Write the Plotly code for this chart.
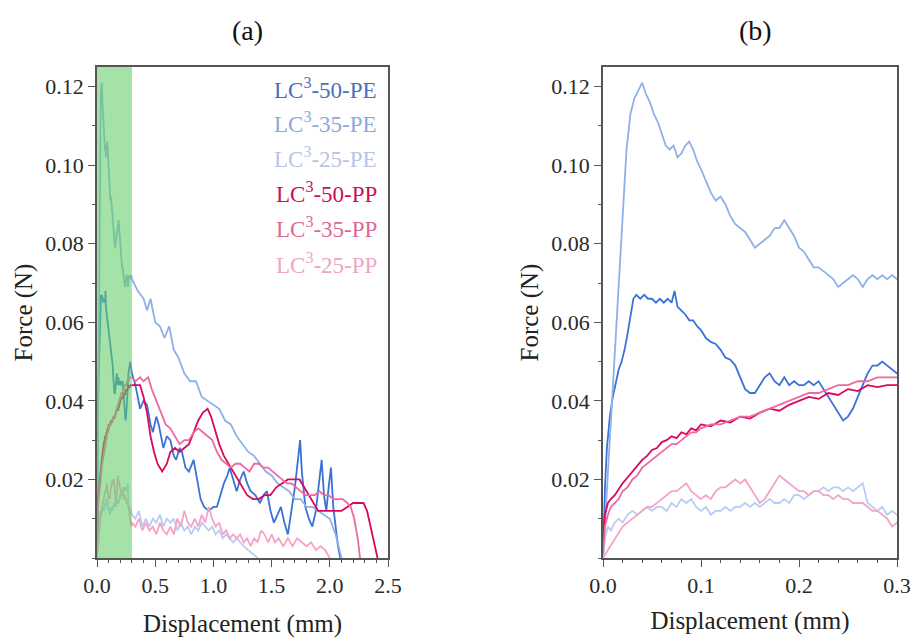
import plotly.graph_objects as go

# ---------------- data (displacement mm, force N) ----------------
pe50_x = [0, 0.002, 0.004, 0.007, 0.010, 0.013, 0.016, 0.019, 0.022, 0.025, 0.028, 0.031, 0.034, 0.038, 0.042, 0.046,
          0.050, 0.054, 0.058, 0.062, 0.066, 0.070, 0.073, 0.076, 0.080, 0.084, 0.088, 0.092, 0.096, 0.100, 0.105,
          0.110, 0.115, 0.120, 0.125, 0.130, 0.135, 0.140, 0.145, 0.150, 0.155, 0.160, 0.165, 0.170, 0.175, 0.180,
          0.185, 0.190, 0.195, 0.200, 0.205, 0.210, 0.215, 0.220, 0.225, 0.230, 0.235, 0.240, 0.245, 0.250, 0.255,
          0.260, 0.265, 0.270, 0.275, 0.280, 0.285, 0.290, 0.295, 0.300,
          0.33, 0.37, 0.40, 0.43, 0.46, 0.48, 0.51, 0.53, 0.57, 0.60, 0.63, 0.66, 0.68, 0.71, 0.73, 0.76, 0.79, 0.83,
          0.86, 0.89, 0.92, 0.96, 1.00, 1.03, 1.06, 1.09, 1.12, 1.14, 1.17, 1.20, 1.23, 1.26, 1.29, 1.32, 1.36, 1.40,
          1.43, 1.46, 1.49, 1.52, 1.55, 1.58, 1.61, 1.64, 1.67, 1.70, 1.73, 1.745, 1.76, 1.79, 1.82, 1.85, 1.88, 1.91,
          1.93, 1.95, 1.97, 1.99, 2.01, 2.03, 2.05, 2.07, 2.09]
pe50_y = [0, 0.018, 0.028, 0.036, 0.041, 0.045, 0.048, 0.050, 0.053, 0.057, 0.061, 0.066, 0.067, 0.066, 0.067, 0.066,
          0.066, 0.065, 0.066, 0.065, 0.066, 0.065, 0.068, 0.064, 0.063, 0.062, 0.0605, 0.0605, 0.059, 0.058, 0.056,
          0.055, 0.0545, 0.053, 0.051, 0.0505, 0.049, 0.046, 0.043, 0.042, 0.042, 0.044, 0.046, 0.047, 0.045, 0.044,
          0.046, 0.044, 0.045, 0.044, 0.044, 0.045, 0.044, 0.045, 0.043, 0.041, 0.039, 0.037, 0.035, 0.036, 0.038,
          0.041, 0.044, 0.047, 0.049, 0.049, 0.050, 0.049, 0.048, 0.047,
          0.044, 0.038, 0.040, 0.039, 0.034, 0.032, 0.036, 0.034, 0.028, 0.031, 0.030, 0.026, 0.025, 0.028, 0.027,
          0.023, 0.022, 0.025, 0.020, 0.015, 0.013, 0.012, 0.013, 0.013, 0.016, 0.019, 0.021, 0.023, 0.020, 0.017,
          0.020, 0.022, 0.019, 0.017, 0.016, 0.014, 0.016, 0.017, 0.012, 0.009, 0.011, 0.013, 0.009, 0.006, 0.012,
          0.018, 0.026, 0.030, 0.022, 0.013, 0.010, 0.008, 0.012, 0.019, 0.025, 0.016, 0.012, 0.018, 0.023, 0.013,
          0.008, 0.003, 0.0]

pe35_x = [0, 0.004, 0.008, 0.012, 0.016, 0.020, 0.024, 0.028, 0.032, 0.036, 0.040, 0.044, 0.048, 0.052, 0.056, 0.060,
          0.064, 0.068, 0.072, 0.076, 0.080, 0.084, 0.088, 0.092, 0.096, 0.100, 0.105, 0.110, 0.115, 0.120, 0.125,
          0.130, 0.135, 0.140, 0.145, 0.150, 0.155, 0.160, 0.165, 0.170, 0.175, 0.180, 0.185, 0.190, 0.195, 0.200,
          0.205, 0.210, 0.215, 0.220, 0.225, 0.230, 0.235, 0.240, 0.245, 0.250, 0.255, 0.260, 0.265, 0.270, 0.275,
          0.280, 0.285, 0.290, 0.295, 0.300,
          0.35, 0.40, 0.43, 0.46, 0.50, 0.54, 0.58, 0.62, 0.66, 0.70, 0.75, 0.80, 0.85, 0.90, 0.95, 1.00, 1.05, 1.10,
          1.15, 1.20, 1.25, 1.30, 1.35, 1.40, 1.45, 1.50, 1.55, 1.60, 1.65, 1.70, 1.75, 1.80, 1.85, 1.90, 1.95, 2.00,
          2.05, 2.10]
pe35_y = [0, 0.017, 0.034, 0.052, 0.069, 0.086, 0.104, 0.113, 0.117, 0.119, 0.121, 0.118, 0.116, 0.113, 0.111, 0.108,
          0.105, 0.104, 0.105, 0.102, 0.103, 0.105, 0.106, 0.104, 0.101, 0.099, 0.096, 0.093, 0.091, 0.092, 0.090,
          0.087, 0.085, 0.084, 0.083, 0.081, 0.079, 0.080, 0.081, 0.082, 0.084, 0.084, 0.086, 0.084, 0.082, 0.079,
          0.078, 0.076, 0.074, 0.074, 0.073, 0.072, 0.071, 0.069, 0.070, 0.071, 0.072, 0.071, 0.069, 0.071, 0.072,
          0.071, 0.072, 0.071, 0.072, 0.071,
          0.068, 0.066, 0.063, 0.066, 0.060, 0.059, 0.056, 0.059, 0.053, 0.051, 0.047, 0.045, 0.045, 0.041, 0.040,
          0.039, 0.038, 0.035, 0.034, 0.031, 0.029, 0.027, 0.026, 0.024, 0.022, 0.021, 0.019, 0.018, 0.017, 0.015,
          0.015, 0.013, 0.013, 0.012, 0.011, 0.010, 0.006, 0.0]

pe25_x = [0, 0.002, 0.005, 0.008, 0.012, 0.016, 0.020, 0.025, 0.030, 0.035, 0.040, 0.045, 0.050, 0.055, 0.060, 0.065,
          0.070, 0.075, 0.080, 0.085, 0.090, 0.095, 0.100, 0.105, 0.110, 0.115, 0.120, 0.125, 0.130, 0.135, 0.140,
          0.145, 0.150, 0.155, 0.160, 0.165, 0.170, 0.175, 0.180, 0.185, 0.190, 0.195, 0.200, 0.205, 0.210, 0.215,
          0.220, 0.225, 0.230, 0.235, 0.240, 0.245, 0.250, 0.255, 0.260, 0.265, 0.270, 0.275, 0.280, 0.285, 0.290,
          0.295, 0.300,
          0.33, 0.36, 0.39, 0.42, 0.45, 0.48, 0.51, 0.54, 0.57, 0.60, 0.63, 0.66, 0.69, 0.72, 0.75, 0.78, 0.81, 0.84,
          0.87, 0.90, 0.93, 0.96, 0.99, 1.02, 1.05, 1.08, 1.11, 1.14, 1.17, 1.20, 1.23, 1.26, 1.30, 1.34, 1.38]
pe25_y = [0, 0.005, 0.008, 0.007, 0.009, 0.010, 0.009, 0.011, 0.012, 0.011, 0.012, 0.013, 0.012, 0.013, 0.013, 0.012,
          0.014, 0.013, 0.015, 0.014, 0.015, 0.013, 0.012, 0.013, 0.011, 0.012, 0.012, 0.013, 0.012, 0.013, 0.013,
          0.014, 0.013, 0.014, 0.013, 0.014, 0.015, 0.014, 0.014, 0.015, 0.014, 0.016, 0.016, 0.015, 0.016, 0.017,
          0.017, 0.018, 0.017, 0.018, 0.018, 0.017, 0.018, 0.017, 0.018, 0.019, 0.014, 0.013, 0.012, 0.013, 0.011,
          0.012, 0.011,
          0.010, 0.012, 0.008, 0.010, 0.008, 0.010, 0.009, 0.011, 0.008, 0.010, 0.009, 0.010, 0.007, 0.009, 0.007,
          0.008, 0.006, 0.008, 0.007, 0.009, 0.008, 0.007, 0.008, 0.006, 0.007, 0.005, 0.006, 0.005, 0.004, 0.005,
          0.004, 0.003, 0.002, 0.001, 0.0]

pp50_x = [0, 0.002, 0.005, 0.008, 0.012, 0.016, 0.020, 0.025, 0.030, 0.035, 0.040, 0.045, 0.050, 0.055, 0.060, 0.065,
          0.070, 0.075, 0.080, 0.085, 0.090, 0.095, 0.100, 0.110, 0.120, 0.130, 0.140, 0.150, 0.160, 0.170, 0.180,
          0.190, 0.200, 0.210, 0.220, 0.230, 0.240, 0.250, 0.260, 0.270, 0.280, 0.290, 0.300,
          0.33, 0.37, 0.40, 0.43, 0.46, 0.49, 0.52, 0.56, 0.60, 0.63, 0.67, 0.71, 0.75, 0.79, 0.83, 0.87, 0.91, 0.95,
          0.98, 1.01, 1.05, 1.09, 1.13, 1.17, 1.21, 1.25, 1.29, 1.34, 1.39, 1.44, 1.49, 1.54, 1.59, 1.64, 1.69, 1.74,
          1.78, 1.82, 1.86, 1.90, 1.95, 2.00, 2.05, 2.10, 2.15, 2.20, 2.25, 2.29, 2.32, 2.35, 2.38, 2.41]
pp50_y = [0.003, 0.011, 0.014, 0.015, 0.016, 0.0175, 0.019, 0.0205, 0.022, 0.0235, 0.025, 0.026, 0.0275, 0.028, 0.0295,
          0.030, 0.031, 0.0305, 0.032, 0.0315, 0.033, 0.0325, 0.034, 0.0335, 0.035, 0.0345, 0.036, 0.0355, 0.037,
          0.038, 0.0375, 0.039, 0.040, 0.041, 0.0405, 0.042, 0.0415, 0.043, 0.0425, 0.044, 0.0435, 0.044, 0.044,
          0.044, 0.044, 0.041, 0.037, 0.031, 0.027, 0.024, 0.022, 0.024, 0.027, 0.028, 0.027, 0.028, 0.029, 0.032,
          0.035, 0.037, 0.038, 0.036, 0.033, 0.029, 0.026, 0.024, 0.022, 0.020, 0.018, 0.016, 0.015, 0.015, 0.016,
          0.016, 0.018, 0.019, 0.020, 0.020, 0.020, 0.018, 0.016, 0.014, 0.012, 0.012, 0.012, 0.012, 0.012, 0.013,
          0.014, 0.014, 0.014, 0.012, 0.008, 0.004, 0.0]

pp35_x = [0, 0.002, 0.005, 0.008, 0.012, 0.016, 0.020, 0.025, 0.030, 0.035, 0.040, 0.045, 0.050, 0.055, 0.060, 0.065,
          0.070, 0.075, 0.080, 0.085, 0.090, 0.095, 0.100, 0.110, 0.120, 0.130, 0.140, 0.150, 0.160, 0.170, 0.180,
          0.190, 0.200, 0.210, 0.220, 0.230, 0.240, 0.250, 0.260, 0.270, 0.280, 0.290, 0.300,
          0.33, 0.37, 0.40, 0.44, 0.47, 0.51, 0.55, 0.59, 0.63, 0.67, 0.71, 0.75, 0.79, 0.83, 0.87, 0.91, 0.95, 0.99,
          1.03, 1.07, 1.11, 1.15, 1.19, 1.23, 1.27, 1.31, 1.35, 1.39, 1.43, 1.47, 1.51, 1.55, 1.59, 1.63, 1.67, 1.71,
          1.75, 1.79, 1.83, 1.87, 1.91, 1.95, 1.99, 2.03, 2.07, 2.11, 2.15, 2.18, 2.21, 2.24, 2.26]
pp35_y = [0.001, 0.008, 0.011, 0.013, 0.014, 0.015, 0.017, 0.018, 0.020, 0.021, 0.023, 0.024, 0.025, 0.026, 0.027,
          0.028, 0.029, 0.029, 0.030, 0.031, 0.032, 0.032, 0.033, 0.034, 0.034, 0.035, 0.036, 0.036, 0.037, 0.038,
          0.039, 0.040, 0.041, 0.042, 0.042, 0.043, 0.044, 0.044, 0.045, 0.045, 0.046, 0.046, 0.046,
          0.045, 0.046, 0.045, 0.046, 0.043, 0.040, 0.037, 0.034, 0.033, 0.031, 0.029, 0.030, 0.030, 0.032, 0.033,
          0.032, 0.031, 0.030, 0.027, 0.025, 0.024, 0.023, 0.024, 0.024, 0.023, 0.022, 0.024, 0.024, 0.023, 0.023,
          0.022, 0.021, 0.020, 0.019, 0.019, 0.018, 0.017, 0.016, 0.016, 0.016, 0.017, 0.016, 0.016, 0.015, 0.015,
          0.015, 0.014, 0.013, 0.010, 0.005, 0.0]

pp25_x = [0, 0.005, 0.010, 0.015, 0.020, 0.025, 0.030, 0.035, 0.040, 0.045, 0.050, 0.055, 0.060, 0.065, 0.070, 0.075,
          0.080, 0.085, 0.090, 0.095, 0.100, 0.105, 0.110, 0.115, 0.120, 0.125, 0.130, 0.135, 0.140, 0.145, 0.150,
          0.155, 0.160, 0.165, 0.170, 0.175, 0.180, 0.185, 0.190, 0.195, 0.200, 0.205, 0.210, 0.215, 0.220, 0.225,
          0.230, 0.235, 0.240, 0.245, 0.250, 0.255, 0.260, 0.265, 0.270, 0.275, 0.280, 0.285, 0.290, 0.295, 0.300,
          0.33, 0.36, 0.39, 0.42, 0.45, 0.48, 0.51, 0.54, 0.57, 0.60, 0.63, 0.66, 0.69, 0.72, 0.75, 0.78, 0.81, 0.84,
          0.87, 0.90, 0.93, 0.96, 0.99, 1.02, 1.05, 1.08, 1.11, 1.14, 1.17, 1.20, 1.23, 1.26, 1.29, 1.32, 1.35, 1.38,
          1.41, 1.44, 1.47, 1.50, 1.53, 1.56, 1.60, 1.64, 1.68, 1.72, 1.76, 1.80, 1.84, 1.88, 1.92, 1.96, 2.00]
pp25_y = [0, 0.002, 0.004, 0.006, 0.008, 0.009, 0.010, 0.011, 0.012, 0.013, 0.013, 0.014, 0.015, 0.016, 0.017, 0.017,
          0.018, 0.019, 0.017, 0.016, 0.015, 0.016, 0.015, 0.017, 0.018, 0.018, 0.019, 0.020, 0.019, 0.020, 0.018,
          0.016, 0.014, 0.015, 0.017, 0.019, 0.021, 0.020, 0.019, 0.018, 0.017, 0.017, 0.016, 0.017, 0.017, 0.016,
          0.016, 0.015, 0.016, 0.015, 0.015, 0.014, 0.014, 0.014, 0.013, 0.012, 0.012, 0.011, 0.010, 0.008, 0.009,
          0.008, 0.010, 0.007, 0.009, 0.007, 0.008, 0.006, 0.009, 0.007, 0.006, 0.008, 0.006, 0.010, 0.008, 0.012,
          0.009, 0.008, 0.010, 0.008, 0.011, 0.009, 0.013, 0.010, 0.008, 0.009, 0.006, 0.007, 0.005, 0.006, 0.005,
          0.006, 0.004, 0.005, 0.003, 0.005, 0.004, 0.007, 0.006, 0.004, 0.006, 0.004, 0.005, 0.003, 0.005, 0.003,
          0.005, 0.004, 0.003, 0.004, 0.002, 0.003, 0.002, 0.0]

series_names = ["LC<sup>3</sup>-50-PE", "LC<sup>3</sup>-35-PE", "LC<sup>3</sup>-25-PE",
                "LC<sup>3</sup>-50-PP", "LC<sup>3</sup>-35-PP", "LC<sup>3</sup>-25-PP"]
series_x = [pe50_x, pe35_x, pe25_x, pp50_x, pp35_x, pp25_x]
series_y = [pe50_y, pe35_y, pe25_y, pp50_y, pp35_y, pp25_y]
line_colors = ["#3a72d6", "#8fb0e8", "#b9ccf2", "#d9075e", "#ec6aa0", "#f5a3c6"]
label_colors = ["#4a70bc", "#8ea8da", "#b6c5e8", "#c8105a", "#dc6898", "#eea6c6"]

y_ticks = [0.02, 0.04, 0.06, 0.08, 0.10, 0.12]
y_ticktext = ["0.02", "0.04", "0.06", "0.08", "0.10", "0.12"]

FONT = "Liberation Serif, Times New Roman, serif"
AX = "#555555"

fig = go.Figure()
for xs, ys, c, n in zip(series_x, series_y, line_colors, series_names):
    fig.add_trace(go.Scatter(x=xs, y=ys, mode="lines", line=dict(color=c, width=1.8),
                             name=n, xaxis="x", yaxis="y", showlegend=False))
for xs, ys, c, n in zip(series_x, series_y, line_colors, series_names):
    fig.add_trace(go.Scatter(x=xs, y=ys, mode="lines", line=dict(color=c, width=1.8),
                             name=n, xaxis="x2", yaxis="y2", showlegend=False))

ydom = [80 / 638, 571 / 638]
common_y = dict(range=[0, 0.125], tickvals=y_ticks, ticktext=y_ticktext, ticks="outside", ticklen=7,
                tickwidth=1.2, tickcolor=AX, showline=True, linecolor=AX, linewidth=1.5, mirror=True,
                showgrid=False, zeroline=False, automargin=False,
                tickfont=dict(family=FONT, size=22, color="#2a2a2a"),
                minor=dict(dtick=0.01, tick0=0, ticks="outside", ticklen=3, tickcolor=AX, showgrid=False),
                title=dict(text="Force (N)", font=dict(family=FONT, size=25, color="#222"), standoff=6),
                domain=ydom)
common_x = dict(ticks="outside", ticklen=7, tickwidth=1.2, tickcolor=AX, showline=True, linecolor=AX,
                linewidth=1.5, mirror=True, showgrid=False, zeroline=False, automargin=False,
                tickfont=dict(family=FONT, size=22, color="#2a2a2a"))

fig.update_layout(
    width=915, height=638, margin=dict(l=0, r=0, t=0, b=0),
    paper_bgcolor="white", plot_bgcolor="white",
    xaxis=dict(common_x, domain=[97 / 915, 388 / 915], range=[0, 2.5], dtick=0.5, tick0=0, tickformat=".1f",
               minor=dict(dtick=0.1, tick0=0, ticks="outside", ticklen=3, tickcolor=AX, showgrid=False),
               title=dict(text="Displacement (mm)", font=dict(family=FONT, size=25, color="#222"), standoff=22),
               anchor="y"),
    yaxis=dict(common_y, anchor="x"),
    xaxis2=dict(common_x, domain=[603 / 915, 897 / 915], range=[0, 0.3], dtick=0.1, tick0=0, tickformat=".1f",
                minor=dict(dtick=0.02, tick0=0, ticks="outside", ticklen=3, tickcolor=AX, showgrid=False),
                title=dict(text="Displacement (mm)", font=dict(family=FONT, size=25, color="#222"), standoff=14),
                anchor="y2"),
    yaxis2=dict(common_y, anchor="x2"),
)

fig.add_shape(type="rect", xref="x", yref="y domain", x0=0, x1=0.3, y0=0, y1=1,
              fillcolor="rgba(100,205,105,0.58)", line=dict(width=0), layer="above")

# legend as coloured text
legend_y_px = [88, 123, 158, 193, 228, 263]
for n, c, ypx in zip(series_names, label_colors, legend_y_px):
    fig.add_annotation(xref="paper", yref="paper", x=379 / 915, y=1 - ypx / 638, xanchor="right",
                       yanchor="middle", text=n, showarrow=False,
                       font=dict(family=FONT, size=23, color=c))

fig.add_annotation(xref="paper", yref="paper", x=248 / 915, y=1 - 30 / 638, text="(a)", showarrow=False,
                   xanchor="center", yanchor="middle", font=dict(family=FONT, size=28, color="#111"))
fig.add_annotation(xref="paper", yref="paper", x=755 / 915, y=1 - 30 / 638, text="(b)", showarrow=False,
                   xanchor="center", yanchor="middle", font=dict(family=FONT, size=28, color="#111"))

fig.write_html("out.html")
